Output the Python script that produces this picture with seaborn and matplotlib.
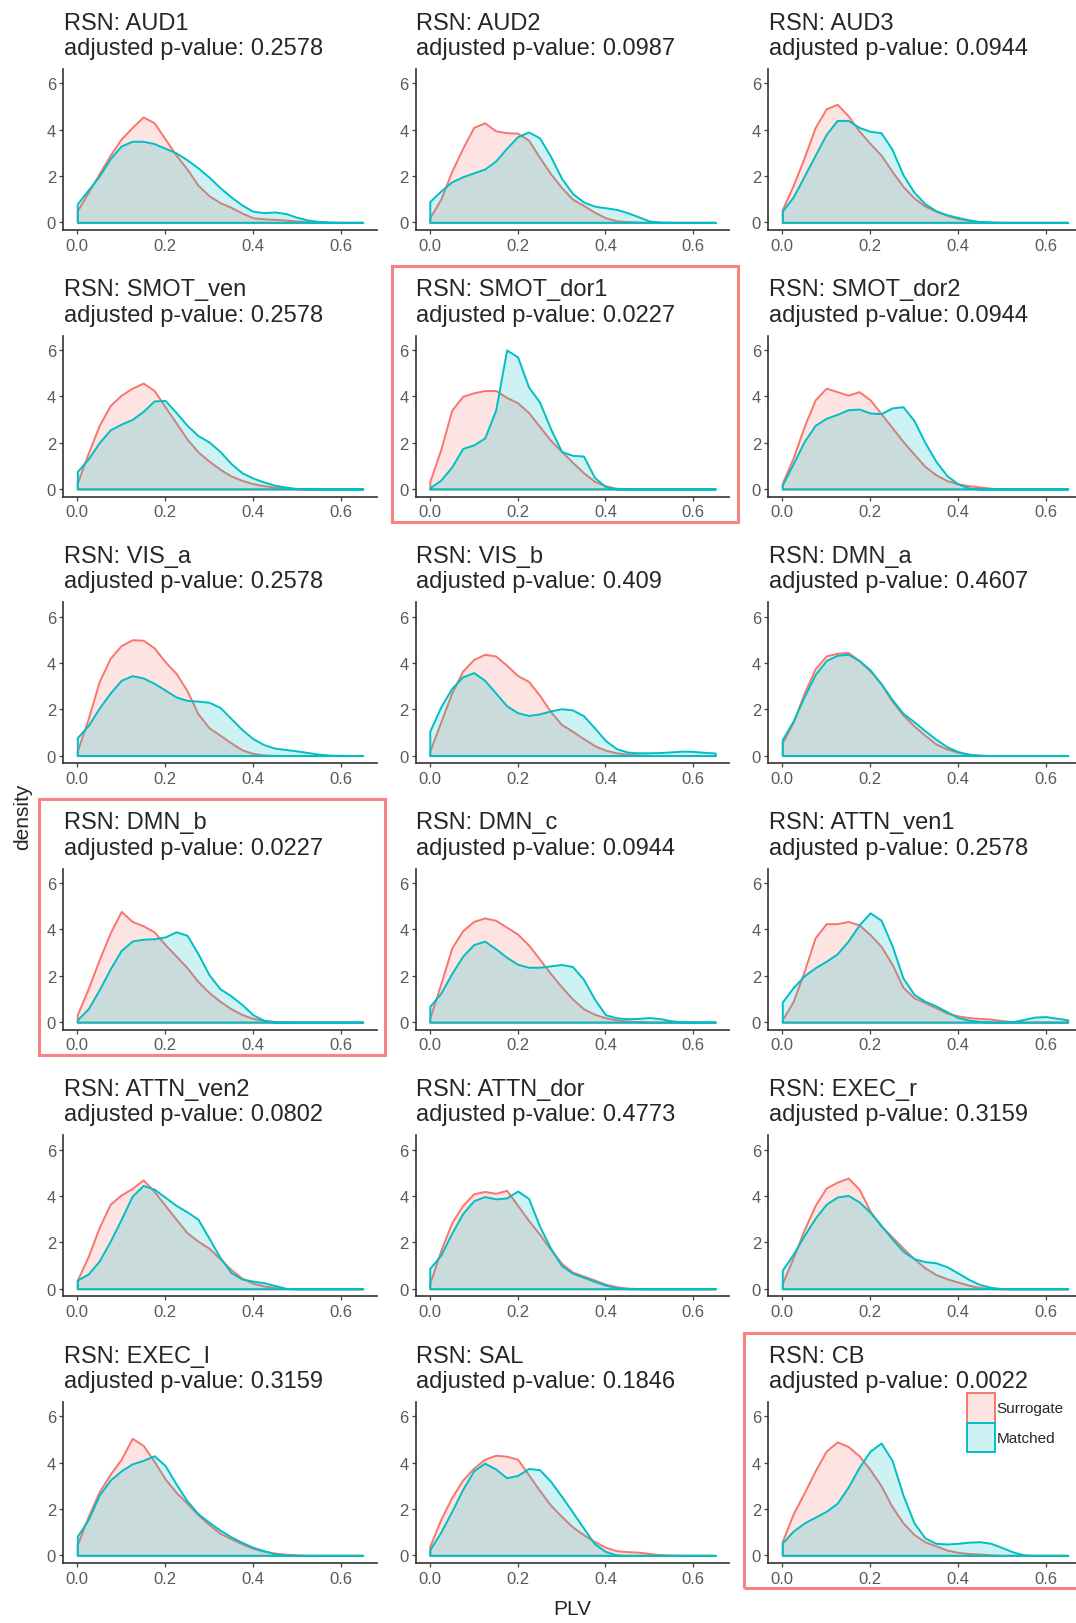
import numpy as np
import pandas as pd
import matplotlib.pyplot as plt
import seaborn as sns
from matplotlib.colors import to_rgba
from matplotlib.patches import Patch, Rectangle

sns.set_style("ticks")
plt.rcParams["font.family"] = ["Liberation Sans", "DejaVu Sans"]

# ----------------------------------------------------------------
# DATA (density curves, PLV grid step 0.025)
# ----------------------------------------------------------------
plv_grid = [0.0, 0.025, 0.05, 0.075, 0.1, 0.125, 0.15, 0.175, 0.2, 0.225,
            0.25, 0.275, 0.3, 0.325, 0.35, 0.375, 0.4, 0.425, 0.45, 0.475,
            0.5, 0.525, 0.55, 0.575, 0.6, 0.625, 0.65]

rsn_names = ["AUD1", "AUD2", "AUD3", "SMOT_ven", "SMOT_dor1", "SMOT_dor2",
             "VIS_a", "VIS_b", "DMN_a", "DMN_b", "DMN_c", "ATTN_ven1",
             "ATTN_ven2", "ATTN_dor", "EXEC_r", "EXEC_l", "SAL", "CB"]

p_values = ["0.2578", "0.0987", "0.0944", "0.2578", "0.0227", "0.0944",
            "0.2578", "0.409", "0.4607", "0.0227", "0.0944", "0.2578",
            "0.0802", "0.4773", "0.3159", "0.3159", "0.1846", "0.0022"]

surrogate_density = [
    [0.5, 1.3, 2.1, 2.9, 3.6, 4.1, 4.55, 4.3, 3.6, 2.9, 2.3, 1.6, 1.15, 0.85, 0.65, 0.4, 0.2, 0.15, 0.13, 0.1, 0.06, 0.03, 0.01, 0, 0, 0, 0],
    [0.2, 1.0, 2.2, 3.2, 4.1, 4.3, 3.95, 3.87, 3.85, 3.55, 2.8, 2.1, 1.5, 1.0, 0.73, 0.44, 0.2, 0.07, 0.03, 0.01, 0, 0, 0, 0, 0, 0, 0],
    [0.55, 1.6, 2.8, 4.1, 4.9, 5.1, 4.6, 3.95, 3.4, 2.9, 2.2, 1.55, 1.05, 0.7, 0.48, 0.3, 0.17, 0.08, 0.03, 0.01, 0, 0, 0, 0, 0, 0, 0],
    [0.25, 1.55, 2.75, 3.6, 4.05, 4.35, 4.57, 4.25, 3.55, 2.85, 2.15, 1.6, 1.2, 0.85, 0.56, 0.37, 0.23, 0.14, 0.08, 0.03, 0.01, 0, 0, 0, 0, 0, 0],
    [0.32, 1.7, 3.4, 4.0, 4.15, 4.25, 4.25, 3.95, 3.72, 3.3, 2.7, 2.1, 1.62, 1.15, 0.7, 0.33, 0.14, 0.03, 0.01, 0, 0, 0, 0, 0, 0, 0, 0],
    [0.25, 1.35, 2.7, 3.85, 4.35, 4.2, 4.05, 4.2, 3.85, 3.25, 2.65, 2.05, 1.5, 0.97, 0.61, 0.36, 0.22, 0.14, 0.09, 0.03, 0.01, 0, 0, 0, 0, 0, 0],
    [0.19, 1.6, 3.2, 4.2, 4.75, 5.0, 4.98, 4.65, 4.05, 3.55, 2.8, 1.8, 1.2, 0.88, 0.55, 0.25, 0.09, 0.03, 0.01, 0, 0, 0, 0, 0, 0, 0, 0],
    [0.19, 1.45, 2.7, 3.65, 4.15, 4.37, 4.3, 3.9, 3.45, 3.2, 2.6, 1.9, 1.34, 1.05, 0.73, 0.43, 0.23, 0.12, 0.06, 0.03, 0.01, 0, 0, 0, 0, 0, 0],
    [0.55, 1.45, 2.7, 3.75, 4.3, 4.42, 4.45, 4.1, 3.65, 3.1, 2.35, 1.75, 1.28, 0.87, 0.5, 0.28, 0.14, 0.06, 0.02, 0, 0, 0, 0, 0, 0, 0, 0],
    [0.32, 1.45, 2.7, 3.85, 4.78, 4.35, 4.16, 3.9, 3.35, 2.85, 2.35, 1.75, 1.28, 0.9, 0.58, 0.33, 0.16, 0.08, 0.03, 0.01, 0, 0, 0, 0, 0, 0, 0],
    [0.17, 1.65, 3.2, 3.95, 4.35, 4.5, 4.4, 4.1, 3.8, 3.33, 2.72, 2.1, 1.52, 1.0, 0.58, 0.34, 0.19, 0.1, 0.05, 0.02, 0, 0, 0, 0, 0, 0, 0],
    [0.1, 0.9, 2.2, 3.65, 4.25, 4.25, 4.35, 4.2, 3.78, 3.27, 2.5, 1.5, 1.05, 0.85, 0.62, 0.39, 0.27, 0.2, 0.16, 0.13, 0.07, 0.02, 0, 0, 0, 0, 0],
    [0.37, 1.4, 2.65, 3.65, 4.05, 4.33, 4.7, 4.2, 3.6, 3.0, 2.42, 2.05, 1.75, 1.3, 0.83, 0.46, 0.24, 0.12, 0.05, 0.01, 0, 0, 0, 0, 0, 0, 0],
    [0.23, 1.65, 2.85, 3.6, 4.1, 4.2, 4.12, 4.25, 3.6, 2.95, 2.35, 1.7, 1.1, 0.72, 0.55, 0.38, 0.2, 0.09, 0.03, 0.01, 0, 0, 0, 0, 0, 0, 0],
    [0.23, 1.35, 2.55, 3.6, 4.35, 4.6, 4.78, 4.3, 3.35, 2.7, 2.24, 1.75, 1.3, 0.9, 0.61, 0.43, 0.29, 0.15, 0.05, 0.01, 0, 0, 0, 0, 0, 0, 0],
    [0.46, 1.68, 2.75, 3.5, 4.15, 5.05, 4.75, 4.06, 3.3, 2.72, 2.25, 1.75, 1.33, 0.95, 0.72, 0.5, 0.3, 0.18, 0.1, 0.05, 0.02, 0, 0, 0, 0, 0, 0],
    [0.39, 1.55, 2.5, 3.25, 3.77, 4.15, 4.32, 4.28, 4.15, 3.48, 2.8, 2.17, 1.68, 1.23, 0.89, 0.6, 0.35, 0.2, 0.16, 0.14, 0.08, 0.03, 0.01, 0, 0, 0, 0],
    [0.6, 1.8, 2.7, 3.65, 4.5, 4.9, 4.7, 4.3, 3.7, 3.0, 2.1, 1.4, 0.9, 0.58, 0.41, 0.23, 0.13, 0.08, 0.06, 0.02, 0, 0, 0, 0, 0, 0, 0],
]

matched_density = [
    [0.8, 1.4, 2.0, 2.75, 3.3, 3.5, 3.5, 3.4, 3.2, 3.0, 2.7, 2.35, 1.95, 1.5, 1.1, 0.75, 0.48, 0.42, 0.45, 0.38, 0.22, 0.1, 0.04, 0.01, 0, 0, 0],
    [0.9, 1.35, 1.75, 1.97, 2.14, 2.3, 2.65, 3.2, 3.7, 3.9, 3.65, 2.85, 1.9, 1.25, 0.88, 0.7, 0.63, 0.56, 0.42, 0.24, 0.06, 0.01, 0, 0, 0, 0, 0],
    [0.48, 1.1, 2.0, 2.9, 3.8, 4.4, 4.4, 4.1, 3.93, 3.87, 3.15, 2.05, 1.3, 0.8, 0.5, 0.33, 0.21, 0.11, 0.03, 0.01, 0, 0, 0, 0, 0, 0, 0],
    [0.75, 1.3, 2.0, 2.55, 2.8, 3.0, 3.35, 3.8, 3.82, 3.3, 2.75, 2.3, 2.03, 1.62, 1.1, 0.7, 0.47, 0.3, 0.16, 0.08, 0.02, 0, 0, 0, 0, 0, 0],
    [0.05, 0.38, 0.95, 1.75, 1.9, 2.2, 3.4, 6.0, 5.7, 4.4, 3.75, 2.6, 1.62, 1.45, 1.42, 0.5, 0.1, 0, 0, 0, 0, 0, 0, 0, 0, 0, 0],
    [0.17, 1.1, 2.05, 2.75, 3.05, 3.22, 3.42, 3.45, 3.28, 3.25, 3.5, 3.55, 2.95, 2.0, 1.19, 0.57, 0.22, 0.04, 0, 0, 0, 0, 0, 0, 0, 0, 0],
    [0.77, 1.3, 2.05, 2.7, 3.25, 3.45, 3.35, 3.12, 2.83, 2.53, 2.38, 2.35, 2.3, 2.08, 1.6, 1.12, 0.73, 0.47, 0.32, 0.26, 0.2, 0.13, 0.06, 0.02, 0.01, 0, 0],
    [1.05, 2.1, 2.9, 3.4, 3.58, 3.25, 2.7, 2.15, 1.85, 1.73, 1.8, 1.93, 2.02, 1.97, 1.72, 1.2, 0.65, 0.3, 0.15, 0.12, 0.12, 0.13, 0.16, 0.19, 0.18, 0.14, 0.11],
    [0.69, 1.5, 2.55, 3.5, 4.1, 4.33, 4.37, 4.1, 3.7, 3.1, 2.42, 1.82, 1.46, 1.07, 0.7, 0.38, 0.17, 0.05, 0.01, 0, 0, 0, 0, 0, 0, 0, 0],
    [0.1, 0.58, 1.4, 2.3, 3.1, 3.5, 3.58, 3.6, 3.68, 3.9, 3.75, 2.95, 2.05, 1.44, 1.14, 0.76, 0.32, 0.08, 0, 0, 0, 0, 0, 0, 0, 0, 0],
    [0.68, 1.25, 2.1, 2.85, 3.35, 3.5, 3.17, 2.8, 2.5, 2.37, 2.37, 2.43, 2.49, 2.4, 1.85, 1.0, 0.32, 0.19, 0.15, 0.16, 0.2, 0.15, 0.06, 0.01, 0, 0, 0],
    [0.87, 1.5, 2.0, 2.35, 2.63, 2.95, 3.5, 4.2, 4.72, 4.4, 3.3, 1.9, 1.2, 0.9, 0.7, 0.45, 0.2, 0.09, 0.03, 0, 0, 0.02, 0.12, 0.22, 0.24, 0.17, 0.1],
    [0.37, 0.64, 1.2, 2.05, 3.0, 4.0, 4.46, 4.3, 3.95, 3.6, 3.32, 3.0, 2.18, 1.35, 0.7, 0.42, 0.33, 0.26, 0.14, 0.02, 0, 0, 0, 0, 0, 0, 0],
    [0.88, 1.45, 2.4, 3.25, 3.8, 3.98, 3.88, 3.92, 4.22, 3.9, 2.7, 1.75, 1.0, 0.67, 0.5, 0.32, 0.16, 0.04, 0, 0, 0, 0, 0, 0, 0, 0, 0],
    [0.8, 1.5, 2.3, 3.05, 3.65, 3.96, 4.03, 3.75, 3.3, 2.74, 2.15, 1.62, 1.3, 1.17, 1.12, 0.95, 0.68, 0.4, 0.18, 0.06, 0.01, 0, 0, 0, 0, 0, 0],
    [0.82, 1.55, 2.6, 3.25, 3.65, 3.95, 4.1, 4.3, 3.88, 3.08, 2.35, 1.8, 1.43, 1.09, 0.8, 0.56, 0.35, 0.2, 0.06, 0.01, 0, 0, 0, 0, 0, 0, 0],
    [0.24, 1.0, 1.9, 2.85, 3.65, 3.98, 3.73, 3.35, 3.45, 3.75, 3.7, 3.2, 2.55, 1.87, 1.18, 0.5, 0.17, 0.02, 0, 0, 0, 0, 0, 0, 0, 0, 0],
    [0.53, 1.05, 1.4, 1.65, 1.9, 2.25, 2.95, 3.8, 4.5, 4.85, 4.1, 2.6, 1.4, 0.75, 0.52, 0.49, 0.52, 0.57, 0.59, 0.52, 0.34, 0.15, 0.02, 0, 0, 0, 0],
]

groups = ["Surrogate", "Matched"]
palette = {"Surrogate": "#F8766D", "Matched": "#00BFC4"}

# long-form table for FacetGrid
frames = []
for name, s_vals, m_vals in zip(rsn_names, surrogate_density, matched_density):
    for grp, vals in zip(groups, [s_vals, m_vals]):
        frames.append(pd.DataFrame({"rsn": name, "group": grp,
                                    "plv": plv_grid, "density": vals}))
df = pd.concat(frames, ignore_index=True)


def draw_density(x, y, color=None, label=None, **kws):
    ax = plt.gca()
    ax.fill_between(x, y, facecolor=to_rgba(color, 0.2), edgecolor=color,
                    linewidth=1.4, joinstyle="round")


g = sns.FacetGrid(df, col="rsn", col_wrap=3, hue="group", hue_order=groups,
                  palette=palette, col_order=rsn_names, height=2, aspect=1.5)
g.map(draw_density, "plv", "density")
g.set_titles("")
g.set_axis_labels("", "")

fig = g.figure
fig.set_size_inches(10.76, 16.24)
W, H = 1076, 1624

for i, ax in enumerate(g.axes.flat):
    r, c = divmod(i, 3)
    left = 63 + 352.5 * c
    top = 70 + 266.6 * r
    ax.set_position([left / W, 1 - (top + 161) / H, 314 / W, 161 / H])
    ax.set_xlim(-0.0325, 0.6825)
    ax.set_ylim(-0.33, 6.62)
    ax.set_xticks([0.0, 0.2, 0.4, 0.6])
    ax.set_xticklabels(["0.0", "0.2", "0.4", "0.6"])
    ax.set_yticks([0, 2, 4, 6])
    ax.set_yticklabels(["0", "2", "4", "6"])
    ax.tick_params(axis="both", labelbottom=True, labelleft=True,
                   labelsize=12, labelcolor="#5A5A5A", color="#444444",
                   length=3, width=0.9)
    ax.tick_params(axis="x", pad=2.5)
    ax.tick_params(axis="y", pad=2)
    for lab in ax.get_xticklabels() + ax.get_yticklabels():
        lab.set_visible(True)
    for sp in ["left", "bottom"]:
        ax.spines[sp].set_linewidth(1.2)
        ax.spines[sp].set_color("#333333")
    ax.annotate(f"RSN: {rsn_names[i]}\nadjusted p-value: {p_values[i]}",
                xy=(0, 1), xycoords="axes fraction", xytext=(1, 10),
                textcoords="offset pixels", ha="left", va="bottom",
                fontsize=17, linespacing=1.2)

    # highlight significant networks
    if float(p_values[i]) < 0.05:
        bx0 = left - 24
        bx1 = left + 314 + 8
        by0 = top - 69.5
        by1 = top + 161 + 25
        fig.add_artist(Rectangle((bx0 / W, 1 - by1 / H), (bx1 - bx0) / W,
                                 (by1 - by0) / H, transform=fig.transFigure,
                                 fill=False, edgecolor="#F98282",
                                 linewidth=2.2, clip_on=False))

handles = [Patch(facecolor=to_rgba(palette[k], 0.2), edgecolor=palette[k],
                 linewidth=1.4, label=k) for k in groups]
fig.legend(handles=handles, loc="upper left",
           bbox_to_anchor=(967 / W, 1 - 1394 / H), frameon=False,
           fontsize=11, handlelength=1.85, handleheight=2.6,
           handletextpad=0.1, labelspacing=0.0, borderpad=0, borderaxespad=0)

fig.text(23 / W, 1 - 817 / H, "density", rotation=90, ha="center",
         va="center", fontsize=15)
fig.text(572 / W, 1 - 1610 / H, "PLV", ha="center", va="center", fontsize=15)

fig.savefig("out.png", dpi=100)
